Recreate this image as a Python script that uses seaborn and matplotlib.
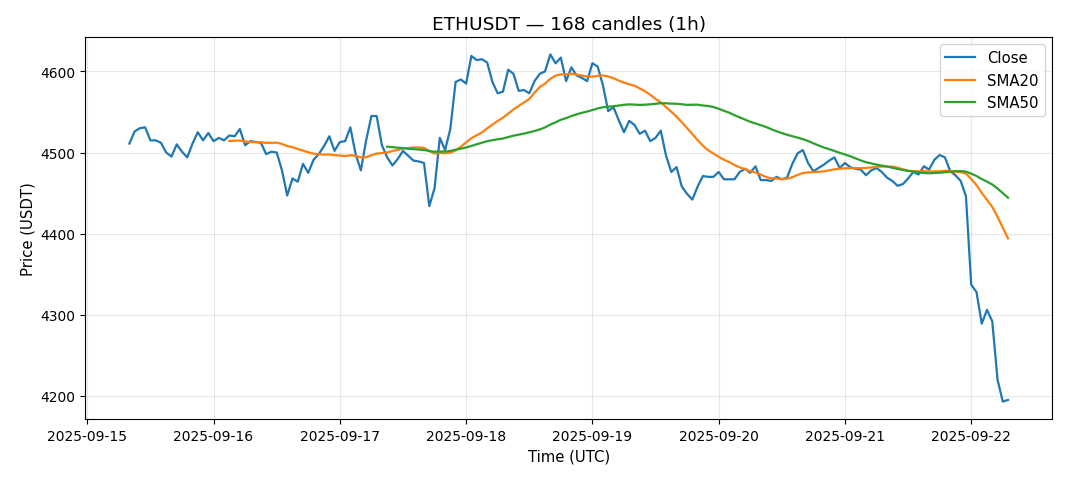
import numpy as np
import pandas as pd
import matplotlib
matplotlib.use("Agg")
import matplotlib.pyplot as plt
import matplotlib.dates as mdates
import seaborn as sns

start_time = "2025-09-15 08:00"
n_candles = 168
close = [
    4511, 4526, 4530, 4531, 4515, 4515, 4512, 4500, 4495, 4510,
    4501, 4494, 4511, 4525, 4515, 4524, 4514, 4518, 4515, 4521,
    4520, 4529, 4509, 4514, 4513, 4512, 4498, 4501, 4500, 4478,
    4447, 4468, 4464, 4486, 4475, 4491, 4498, 4508, 4520, 4502,
    4513, 4514, 4531, 4498, 4478, 4515, 4545, 4545, 4509, 4494,
    4484, 4492, 4502, 4496, 4490, 4489, 4487, 4434, 4456, 4518,
    4503, 4529, 4587, 4590, 4585, 4619, 4614, 4615, 4611, 4587,
    4573, 4575, 4602, 4597, 4576, 4577, 4573, 4588, 4597, 4600,
    4621, 4610, 4617, 4588, 4605, 4595, 4592, 4588, 4610, 4606,
    4583, 4551, 4556, 4540, 4525, 4539, 4534, 4523, 4527, 4514,
    4518, 4527, 4496, 4476, 4482, 4458, 4449, 4442, 4458, 4471,
    4470, 4470, 4476, 4467, 4467, 4467, 4476, 4480, 4475, 4483,
    4466, 4466, 4465, 4470, 4467, 4469, 4486, 4499, 4503, 4487,
    4477, 4481, 4485, 4490, 4494, 4481, 4487, 4482, 4480, 4479,
    4472, 4478, 4481, 4476, 4469, 4465, 4459, 4461, 4468, 4476,
    4473, 4483, 4479, 4491, 4497, 4494, 4477, 4472, 4465, 4446,
    4337, 4328, 4289, 4306, 4292, 4220, 4193, 4195,
]

times = pd.date_range(start_time, periods=n_candles, freq="h")
df = pd.DataFrame({"time": times, "close": close})
df["sma20"] = df["close"].rolling(20).mean()
df["sma50"] = df["close"].rolling(50).mean()

fig, ax = plt.subplots(figsize=(10.68, 4.81), dpi=100)
fig.subplots_adjust(left=0.08, right=0.985, top=0.921, bottom=0.127)

sns.lineplot(data=df, x="time", y="close", ax=ax, color="#1f77b4", linewidth=1.6, label="Close")
sns.lineplot(data=df, x="time", y="sma20", ax=ax, color="#ff7f0e", linewidth=1.6, label="SMA20")
sns.lineplot(data=df, x="time", y="sma50", ax=ax, color="#2ca02c", linewidth=1.6, label="SMA50")

ax.set_title("ETHUSDT — 168 candles (1h)", fontsize=13.3)
ax.set_xlabel("Time (UTC)", fontsize=10.7)
ax.set_ylabel("Price (USDT)", fontsize=10.7)
ax.tick_params(labelsize=10)
ax.grid(True, alpha=0.3)
ax.xaxis.set_major_locator(mdates.DayLocator())
ax.xaxis.set_major_formatter(mdates.DateFormatter("%Y-%m-%d"))
ax.legend(loc="upper right", fontsize=10.7)

fig.savefig("out.png", dpi=100)
